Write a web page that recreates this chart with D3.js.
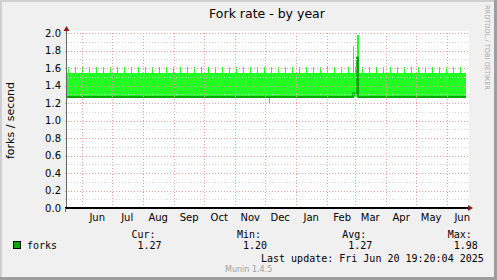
<!DOCTYPE html>
<html>
<head>
<meta charset="utf-8">
<script src="https://cdn.jsdelivr.net/npm/d3@7"></script>
<style>
body { margin: 0; background: #f0f0f0; }
svg { display: block; }
text { font-family: "DejaVu Sans", sans-serif; }
.mono { font-family: "DejaVu Sans Mono", monospace; }
</style>
</head>
<body>
<div id="chart"></div>
<script>
const timeStart = "2024-05-16T19:20:00Z";
const timeEnd = "2025-06-20T19:20:00Z";
const yTickValues = [0, 0.2, 0.4, 0.6, 0.8, 1.0, 1.2, 1.4, 1.6, 1.8, 2.0];
const yMinorValues = [0.1, 0.3, 0.5, 0.7, 0.9, 1.1, 1.3, 1.5, 1.7, 1.9];

// light band: daily min .. max, each value holds from its date to the next
const bandDates = ["2024-05-16T19:20:00Z", "2024-12-05", "2024-12-06", "2025-02-27", "2025-02-28", "2025-03-03", "2025-03-05", "2025-06-19T14:00:00Z"];
const bandLow = [1.27, 1.20, 1.27, 1.27, 1.27, 1.27, 1.27, 1.27];
const bandHigh = [1.545, 1.545, 1.545, 1.85, 1.545, 1.98, 1.545, 1.545];

// weekly peaks on top of the band
const peakDates = [
	"2024-05-18", "2024-05-25", "2024-06-01", "2024-06-08", "2024-06-15", "2024-06-22", "2024-06-29",
	"2024-07-06", "2024-07-13", "2024-07-20", "2024-07-27", "2024-08-03", "2024-08-10", "2024-08-17",
	"2024-08-24", "2024-08-31", "2024-09-07", "2024-09-14", "2024-09-21", "2024-09-28", "2024-10-05",
	"2024-10-12", "2024-10-19", "2024-10-26", "2024-11-02", "2024-11-09", "2024-11-16", "2024-11-23",
	"2024-11-30", "2024-12-07", "2024-12-14", "2024-12-21", "2024-12-28", "2025-01-04", "2025-01-11",
	"2025-01-18", "2025-01-25", "2025-02-01", "2025-02-08", "2025-02-15", "2025-02-22", "2025-03-01",
	"2025-03-08", "2025-03-15", "2025-03-22", "2025-03-29", "2025-04-05", "2025-04-12", "2025-04-19",
	"2025-04-26", "2025-05-03", "2025-05-10", "2025-05-17", "2025-05-24", "2025-05-31", "2025-06-07",
	"2025-06-14"
];
const peakValues = [
	1.61, 1.61, 1.61, 1.61, 1.61, 1.61, 1.61, 1.61, 1.61, 1.61, 1.61, 1.61, 1.61, 1.61, 1.61,
	1.61, 1.61, 1.61, 1.61, 1.61, 1.61, 1.61, 1.61, 1.61, 1.61, 1.61, 1.61, 1.61, 1.61, 1.61,
	1.61, 1.61, 1.61, 1.61, 1.61, 1.61, 1.61, 1.61, 1.61, 1.61, 1.61, 1.61, 1.61, 1.61, 1.61,
	1.61, 1.61, 1.61, 1.61, 1.61, 1.61, 1.61, 1.61, 1.61, 1.61, 1.61, 1.61
];

// dark average line
const avgDates = ["2024-05-16T19:20:00Z", "2025-02-27", "2025-03-03", "2025-03-04", "2025-06-19T19:00:00Z"];
const avgValues = [1.27, 1.31, 1.72, 1.27, 1.27];

const statNames = ["Cur:", "Min:", "Avg:", "Max:"];
const statValues = ["1.27", "1.20", "1.27", "1.98"];
const seriesName = "forks";
const lastUpdate = "Last update: Fri Jun 20 19:20:04 2025";

const width = 497;
const height = 280;
const plotLeft = 67;
const plotRight = 467;
const plotTop = 33;
const plotBottom = 208;
const bandColor = "#22ff22";
const lineColor = "#00a800";
const majorGrid = "#eaa0a0";
const minorGrid = "#d4d4d4";
const arrowColor = "#8b1a1a";

const xScale = d3.scaleUtc().domain([new Date(timeStart), new Date(timeEnd)]).range([plotLeft, plotRight]);
const yScale = d3.scaleLinear().domain([0, 2]).range([plotBottom, plotTop]);

const svg = d3.select("#chart").append("svg").attr("width", width).attr("height", height);

// background and 3d frame
svg.append("rect").attr("width", width).attr("height", height).attr("fill", "#f0f0f0");
svg.append("rect").attr("x", 0).attr("y", 0).attr("width", width).attr("height", 2).attr("fill", "#cfcfcf");
svg.append("rect").attr("x", 0).attr("y", 0).attr("width", 2).attr("height", height).attr("fill", "#cfcfcf");
svg.append("rect").attr("x", 0).attr("y", height - 3).attr("width", width).attr("height", 3).attr("fill", "#9e9e9e");
svg.append("rect").attr("x", width - 3).attr("y", 0).attr("width", 3).attr("height", height).attr("fill", "#9e9e9e");

svg.append("rect")
	.attr("x", plotLeft)
	.attr("y", 31)
	.attr("width", plotRight - plotLeft + 2)
	.attr("height", plotBottom - 31)
	.attr("fill", "#fff");

// band
const bandData = bandDates.map((d, i) => ({ t: new Date(d), lo: bandLow[i], hi: bandHigh[i] }));
svg.append("path")
	.datum(bandData)
	.attr("fill", bandColor)
	.attr("shape-rendering", "crispEdges")
	.attr("d", d3.area()
		.curve(d3.curveStepAfter)
		.x((d) => xScale(d.t))
		.y0((d) => yScale(d.lo))
		.y1((d) => yScale(d.hi)));

// weekly peaks, one day wide
svg.append("g")
	.selectAll("rect")
	.data(peakDates)
	.enter()
	.append("rect")
	.attr("x", (d) => Math.floor(xScale(new Date(d))))
	.attr("width", 1)
	.attr("y", (d, i) => yScale(peakValues[i]))
	.attr("height", (d, i) => yScale(bandHigh[0]) - yScale(peakValues[i]) + 1)
	.attr("fill", bandColor)
	.attr("shape-rendering", "crispEdges");

// average line
const avgData = avgDates.map((d, i) => ({ t: new Date(d), v: avgValues[i] }));
svg.append("path")
	.datum(avgData)
	.attr("fill", "none")
	.attr("stroke", lineColor)
	.attr("stroke-width", 2)
	.attr("d", d3.line()
		.curve(d3.curveStepAfter)
		.x((d) => xScale(d.t))
		.y((d) => yScale(d.v)));

// grid on top of the data
const gridG = svg.append("g").attr("shape-rendering", "crispEdges").attr("stroke-dasharray", "1,2");
gridG.selectAll(".minor")
	.data(yMinorValues)
	.enter()
	.append("line")
	.attr("x1", plotLeft - 2)
	.attr("x2", plotRight + 1)
	.attr("y1", (d) => Math.round(yScale(d)) + 0.5)
	.attr("y2", (d) => Math.round(yScale(d)) + 0.5)
	.attr("stroke", minorGrid);
gridG.selectAll(".major")
	.data(yTickValues.slice(1))
	.enter()
	.append("line")
	.attr("x1", plotLeft - 2)
	.attr("x2", plotRight + 1)
	.attr("y1", (d) => Math.round(yScale(d)) + 0.5)
	.attr("y2", (d) => Math.round(yScale(d)) + 0.5)
	.attr("stroke", majorGrid);
const monthTicks = d3.utcMonth.range(d3.utcMonth.ceil(xScale.domain()[0]), xScale.domain()[1]);
gridG.selectAll(".vgrid")
	.data(monthTicks)
	.enter()
	.append("line")
	.attr("x1", (d) => Math.round(xScale(d)) + 0.5)
	.attr("x2", (d) => Math.round(xScale(d)) + 0.5)
	.attr("y1", plotTop)
	.attr("y2", plotBottom)
	.attr("stroke", majorGrid);

// axes
svg.append("line")
	.attr("x1", plotLeft - 0.5).attr("x2", plotLeft - 0.5)
	.attr("y1", plotBottom).attr("y2", 30)
	.attr("stroke", "#666").attr("stroke-width", 1);
svg.append("line")
	.attr("x1", plotLeft - 2).attr("x2", 469)
	.attr("y1", plotBottom).attr("y2", plotBottom)
	.attr("stroke", "#000").attr("stroke-width", 2);
svg.append("line")
	.attr("x1", plotLeft - 1.5).attr("x2", plotLeft - 1.5)
	.attr("y1", plotBottom).attr("y2", plotBottom + 4)
	.attr("stroke", "#666");
svg.append("path")
	.attr("d", `M${plotLeft - 3.5},31 L${plotLeft - 0.5},26 L${plotLeft + 2.5},31 Z`)
	.attr("fill", arrowColor);
svg.append("path")
	.attr("d", `M468,${plotBottom - 3} L473,${plotBottom} L468,${plotBottom + 3} Z`)
	.attr("fill", arrowColor);

// tick labels
svg.append("g")
	.selectAll("text")
	.data(yTickValues)
	.enter()
	.append("text")
	.attr("x", 61)
	.attr("y", (d) => yScale(d) + 3.6)
	.attr("text-anchor", "end")
	.attr("font-size", 10)
	.attr("fill", "#000")
	.text((d) => d3.format(".1f")(d));

const monthLabels = d3.utcMonth.range(d3.utcMonth.ceil(xScale.domain()[0]), xScale.domain()[1]);
svg.append("g")
	.selectAll("text")
	.data(monthLabels)
	.enter()
	.append("text")
	.attr("x", (d) => xScale(d3.utcDay.offset(d, 15)))
	.attr("y", 220.5)
	.attr("text-anchor", "middle")
	.attr("font-size", 10)
	.attr("fill", "#000")
	.text((d) => d3.utcFormat("%b")(d));

// titles
svg.append("text")
	.attr("x", 267)
	.attr("y", 17.5)
	.attr("text-anchor", "middle")
	.attr("font-size", 12.5)
	.attr("fill", "#000")
	.text("Fork rate - by year");
svg.append("text")
	.attr("transform", "translate(14, 120.5) rotate(-90)")
	.attr("text-anchor", "middle")
	.attr("font-size", 11)
	.attr("fill", "#000")
	.text("forks / second");
svg.append("text")
	.attr("transform", "translate(485, 5) rotate(90)")
	.attr("font-size", 6.6)
	.attr("fill", "#a8a8a8")
	.text("RRDTOOL / TOBI OETIKER");

// legend
svg.append("rect")
	.attr("x", 13.5).attr("y", 241.5).attr("width", 7).attr("height", 7)
	.attr("fill", "#00aa00").attr("stroke", "#000");
svg.append("text").attr("class", "mono").attr("x", 27).attr("y", 249).attr("font-size", 10).text(seriesName);
const statG = svg.append("g").attr("class", "mono").attr("font-size", 10);
statG.selectAll(".name")
	.data(statNames)
	.enter()
	.append("text")
	.attr("class", "mono")
	.attr("x", (d, i) => 131.5 + i * 105.4)
	.attr("y", 237.5)
	.text((d) => d);
statG.selectAll(".val")
	.data(statValues)
	.enter()
	.append("text")
	.attr("class", "mono")
	.attr("x", (d, i) => 137.5 + i * 105.4)
	.attr("y", 249)
	.text((d) => d);
svg.append("text").attr("class", "mono").attr("x", 261).attr("y", 261.5).attr("font-size", 10).text(lastUpdate);
svg.append("text")
	.attr("x", 225)
	.attr("y", 271.5)
	.attr("font-size", 8)
	.attr("fill", "#a0a0a0")
	.text("Munin 1.4.5");
</script>
</body>
</html>
